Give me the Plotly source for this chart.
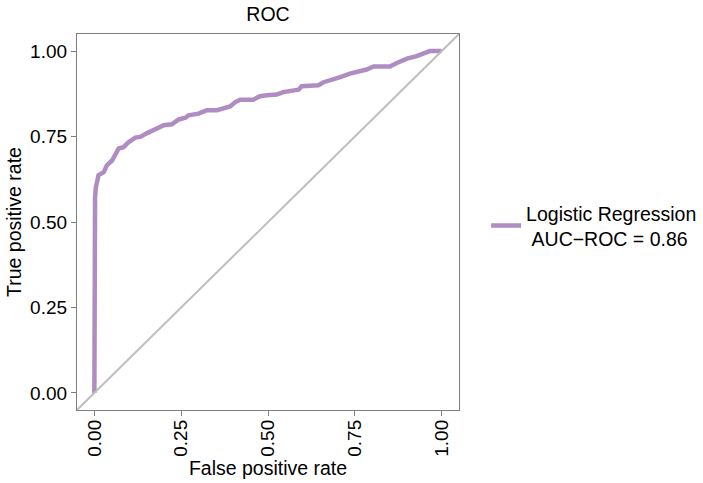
import plotly.graph_objects as go

# ROC curve points
fpr = [0.0, 0.0, 0.0, 0.002, 0.004, 0.007, 0.012, 0.027, 0.036, 0.051, 0.065, 0.070,
       0.084, 0.099, 0.118, 0.132, 0.152, 0.171, 0.200, 0.223, 0.243, 0.262, 0.271,
       0.300, 0.324, 0.353, 0.372, 0.391, 0.406, 0.420, 0.458, 0.477, 0.497, 0.525,
       0.544, 0.564, 0.588, 0.597, 0.621, 0.645, 0.660, 0.679, 0.708, 0.736, 0.765,
       0.784, 0.804, 0.851, 0.871, 0.900, 0.928, 0.947, 0.966, 0.995, 1.0]
tpr = [0.0, 0.30, 0.50, 0.57, 0.60, 0.62, 0.637, 0.646, 0.666, 0.680, 0.705, 0.715,
       0.719, 0.734, 0.747, 0.749, 0.760, 0.768, 0.783, 0.786, 0.800, 0.805, 0.812,
       0.817, 0.827, 0.827, 0.832, 0.838, 0.851, 0.858, 0.858, 0.868, 0.871, 0.873,
       0.880, 0.883, 0.887, 0.897, 0.900, 0.900, 0.909, 0.914, 0.924, 0.934, 0.941,
       0.946, 0.955, 0.955, 0.965, 0.978, 0.985, 0.992, 1.0, 1.0, 1.0]
diag = [-0.05, 1.05]
tick_vals = [0, 0.25, 0.5, 0.75, 1.0]
tick_text = ["0.00", "0.25", "0.50", "0.75", "1.00"]
model_label = "Logistic Regression<br>\u00a0AUC\u2212ROC = 0.86"

PURPLE = "#AF8DC3"
FONT = "Liberation Sans, Arial, sans-serif"

fig = go.Figure()
fig.add_trace(go.Scatter(x=fpr, y=tpr, mode="lines", name=model_label,
                         line=dict(color=PURPLE, width=4.5)))
fig.add_trace(go.Scatter(x=diag, y=diag, mode="lines", showlegend=False,
                         line=dict(color="#BEBEBE", width=2), hoverinfo="skip"))

axis_common = dict(
    range=[-0.05, 1.05], tickvals=tick_vals, ticktext=tick_text,
    ticks="outside", ticklen=5, tickwidth=1, tickcolor="#7f7f7f",
    showline=True, mirror=True, linecolor="#7f7f7f", linewidth=1.3,
    showgrid=False, zeroline=False,
    tickfont=dict(family=FONT, size=19, color="#000000"),
)

fig.update_layout(
    width=703, height=483,
    margin=dict(l=77, r=244, t=33.5, b=73, autoexpand=False),
    paper_bgcolor="white", plot_bgcolor="white",
    font=dict(family=FONT, color="#000000"),
    title=dict(text="ROC", x=0.5 * (77 + 459) / 703, xanchor="center",
               y=1 - 14 / 483, yanchor="middle", yref="container",
               font=dict(family=FONT, size=19.5, color="#000000")),
    xaxis=dict(**axis_common, tickangle=-90, ticklabelstandoff=-4,
               title=dict(text="False positive rate", standoff=0,
                          font=dict(family=FONT, size=19.5, color="#000000"))),
    yaxis=dict(**axis_common,
               title=dict(text="True positive rate", standoff=3,
                          font=dict(family=FONT, size=19.5, color="#000000"))),
    legend=dict(x=1.071, xanchor="left", y=0.49, yanchor="middle",
                bgcolor="rgba(0,0,0,0)", borderwidth=0,
                font=dict(family=FONT, size=19.5, color="#000000")),
    showlegend=True,
)

fig.write_html("out.html", config={"displayModeBar": False},
               post_script="document.body.style.margin='0px';document.body.style.overflow='hidden';")
